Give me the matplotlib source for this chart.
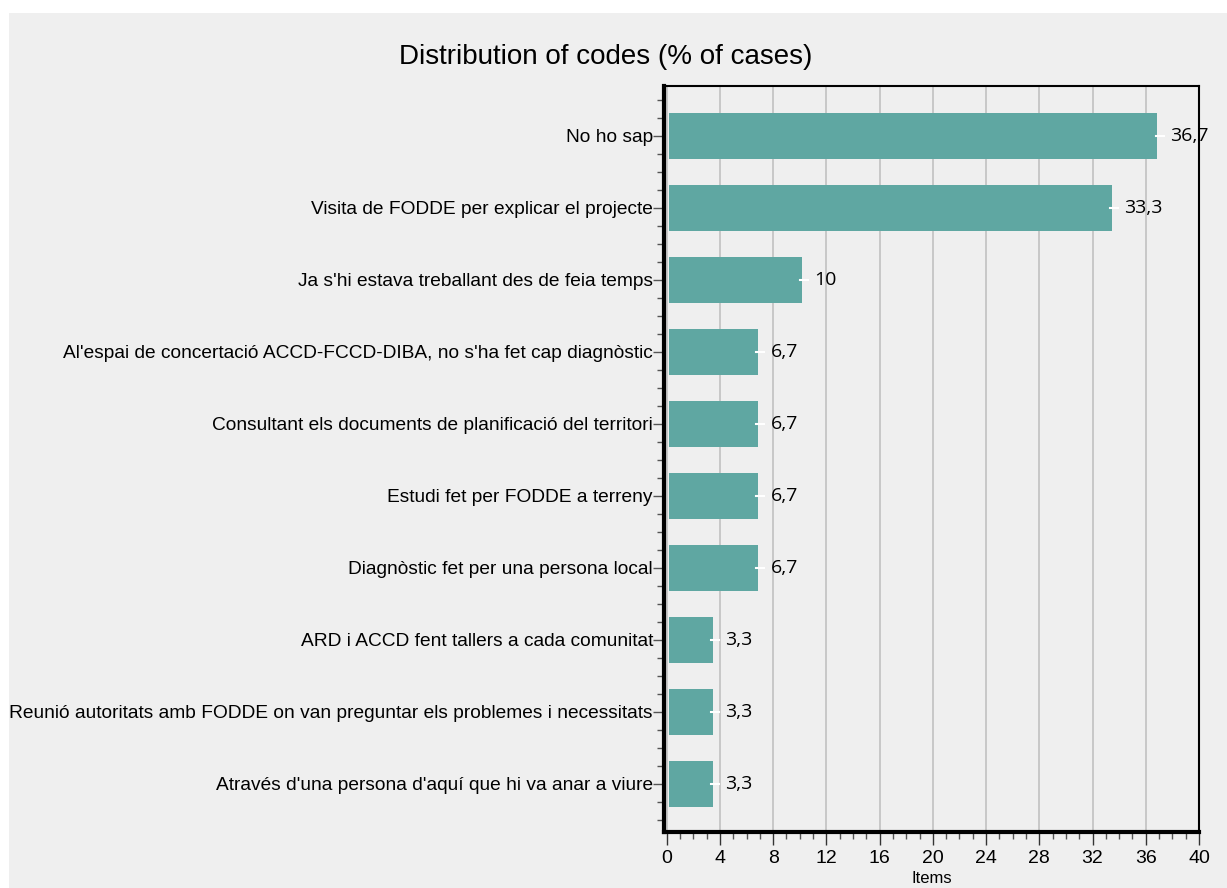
import matplotlib
matplotlib.use("Agg")
import matplotlib.pyplot as plt
from matplotlib.patches import Rectangle
from matplotlib.ticker import MultipleLocator

categories = [
    "No ho sap",
    "Visita de FODDE per explicar el projecte",
    "Ja s'hi estava treballant des de feia temps",
    "Al'espai de concertació ACCD-FCCD-DIBA, no s'ha fet cap diagnòstic",
    "Consultant els documents de planificació del territori",
    "Estudi fet per FODDE a terreny",
    "Diagnòstic fet per una persona local",
    "ARD i ACCD fent tallers a cada comunitat",
    "Reunió autoritats amb FODDE on van preguntar els problemes i necessitats",
    "Através d'una persona d'aquí que hi va anar a viure",
]
values = [36.7, 33.3, 10, 6.7, 6.7, 6.7, 6.7, 3.3, 3.3, 3.3]
value_labels = ["36,7", "33,3", "10", "6,7", "6,7", "6,7", "6,7", "3,3", "3,3", "3,3"]
xticks = [0, 4, 8, 12, 16, 20, 24, 28, 32, 36, 40]

W, H = 1227, 888
fig = plt.figure(figsize=(W / 100, H / 100), dpi=100)
fig.patch.set_facecolor("white")
fig.patches.append(Rectangle((9 / W, 0), 1 - 9 / W, 1 - 13 / H, transform=fig.transFigure,
                             facecolor="#efefef", edgecolor="none", zorder=-10))

ax = fig.add_axes([664 / W, 1 - 832 / H, (1199 - 664) / W, (832 - 86) / H])
ax.set_facecolor("#efefef")

ypos = list(range(len(categories)))
ax.barh(ypos, values, height=0.64, left=0.15, color="#5fa7a2", zorder=3)
ax.set_ylim(len(categories) - 1 + 0.67, -0.69)
ax.set_xlim(-0.2, 40)

ax.set_yticks(ypos)
ax.set_yticklabels(categories, fontsize=13.8, family="Liberation Sans")
ax.yaxis.set_minor_locator(MultipleLocator(0.25))
ax.tick_params(axis="y", which="major", length=8, width=1, color="#555555", pad=0)
ax.tick_params(axis="y", which="minor", length=5, width=1, color="#555555")

ax.set_xticks(xticks)
ax.set_xticklabels([str(t) for t in xticks], fontsize=14, family="Liberation Sans")
ax.xaxis.set_minor_locator(MultipleLocator(1))
ax.tick_params(axis="x", which="major", length=9, width=1, color="#333333", pad=4)
ax.tick_params(axis="x", which="minor", length=5, width=1, color="#555555")
ax.set_xlabel("Items", fontsize=12, family="Liberation Sans", labelpad=3)

ax.grid(axis="x", which="major", color="#c4c4c4", linewidth=1.3, zorder=1)

for side in ["left", "bottom"]:
    ax.spines[side].set_linewidth(3)
    ax.spines[side].set_color("black")
for side in ["top", "right"]:
    ax.spines[side].set_linewidth(1.5)
    ax.spines[side].set_color("black")

for y, v, lab in zip(ypos, values, value_labels):
    end = v + 0.15
    ax.plot([end - 0.1, end + 0.5], [y, y], color="white", linewidth=1.5, zorder=4)
    ax.text(end + 0.95, y, lab, va="center", ha="left", fontsize=14,
            family="Open Sans", zorder=5)

fig.text(606 / W, 1 - 57 / H, "Distribution of codes (% of cases)", ha="center", va="center",
         fontsize=20, family="Liberation Sans")

fig.savefig("out.png", dpi=100, facecolor=fig.get_facecolor())
